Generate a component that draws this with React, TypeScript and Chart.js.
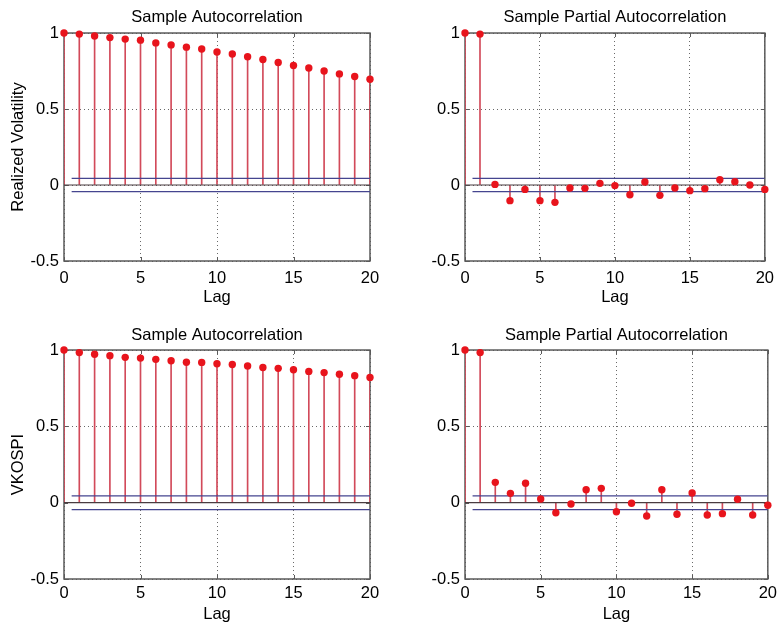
import React, { useEffect, useRef } from "react";
import { Chart, registerables } from "chart.js";

Chart.register(...registerables);

// ---- data ----
const lags = [0, 1, 2, 3, 4, 5, 6, 7, 8, 9, 10, 11, 12, 13, 14, 15, 16, 17, 18, 19, 20];
const rvAcf = [1.0, 0.993, 0.98, 0.97, 0.96, 0.953, 0.935, 0.922, 0.907, 0.895, 0.875, 0.862, 0.844, 0.826, 0.806, 0.786, 0.77, 0.75, 0.731, 0.714, 0.696];
const rvPacf = [1.0, 0.993, 0.004, -0.103, -0.029, -0.103, -0.114, -0.02, -0.022, 0.011, -0.004, -0.064, 0.02, -0.068, -0.02, -0.037, -0.024, 0.035, 0.022, 0.0, -0.029];
const vkAcf = [1.0, 0.983, 0.972, 0.963, 0.952, 0.947, 0.939, 0.93, 0.92, 0.919, 0.91, 0.905, 0.895, 0.886, 0.88, 0.871, 0.86, 0.852, 0.841, 0.832, 0.82];
const vkPacf = [1.0, 0.983, 0.133, 0.061, 0.127, 0.024, -0.066, -0.009, 0.085, 0.094, -0.059, -0.004, -0.087, 0.085, -0.076, 0.063, -0.081, -0.072, 0.022, -0.081, -0.017];
const rvBound = 0.044;
const vkBound = 0.045;
const xTicks = [0, 5, 10, 15, 20];
const yTicks = [-0.5, 0, 0.5, 1];
const acfTitle = "Sample Autocorrelation";
const pacfTitle = "Sample Partial Autocorrelation";
const xLabel = "Lag";
const rvLabel = "Realized Volatility";
const vkLabel = "VKOSPI";

const FONT = '"Liberation Sans", Arial, Helvetica, sans-serif';
const FS = 16.5;
const W = 391;
const H = 312;

type Panel = {
  values: number[];
  bound: number;
  title: string;
  yLabel: string;
  left: number;
  top: number;
  yWidth: number;
  padRight: number;
  xHeight: number;
  titlePadTop: number;
  titlePadBottom: number;
  tickPad: number;
  lagPad: number;
};

const panels: Panel[] = [
  { values: rvAcf, bound: rvBound, title: acfTitle, yLabel: rvLabel, left: 0, top: 0, yWidth: 64, padRight: 21, xHeight: 51, titlePadTop: 7, titlePadBottom: 5.4, tickPad: 8, lagPad: 4.5 },
  { values: rvPacf, bound: rvBound, title: pacfTitle, yLabel: "", left: 391, top: 0, yWidth: 74, padRight: 12, xHeight: 51, titlePadTop: 7, titlePadBottom: 5.4, tickPad: 8, lagPad: 4.5 },
  { values: vkAcf, bound: vkBound, title: acfTitle, yLabel: vkLabel, left: 0, top: 312, yWidth: 64, padRight: 21, xHeight: 45, titlePadTop: 13, titlePadBottom: 4.4, tickPad: 5, lagPad: -1 },
  { values: vkPacf, bound: vkBound, title: pacfTitle, yLabel: "", left: 391, top: 312, yWidth: 74, padRight: 12, xHeight: 45, titlePadTop: 13, titlePadBottom: 4.4, tickPad: 5, lagPad: -1 },
];

const boxPlugin = {
  id: "matlabBox",
  beforeDatasetsDraw(chart: any) {
    const { ctx, chartArea: a, scales } = chart;
    ctx.save();
    ctx.strokeStyle = "#5a5a5a";
    ctx.lineWidth = 1.5;
    ctx.strokeRect(a.left, a.top, a.right - a.left, a.bottom - a.top);
    ctx.lineWidth = 1;
    ctx.beginPath();
    scales.x.ticks.forEach((t: any) => {
      const px = Math.round(scales.x.getPixelForValue(t.value)) + 0.5;
      ctx.moveTo(px, a.bottom);
      ctx.lineTo(px, a.bottom - 4);
      ctx.moveTo(px, a.top);
      ctx.lineTo(px, a.top + 4);
    });
    scales.y.ticks.forEach((t: any) => {
      const py = Math.round(scales.y.getPixelForValue(t.value)) + 0.5;
      ctx.moveTo(a.left, py);
      ctx.lineTo(a.left + 4, py);
      ctx.moveTo(a.right, py);
      ctx.lineTo(a.right - 4, py);
    });
    ctx.stroke();
    ctx.restore();
  },
};

function buildConfig(p: Panel): any {
  const pts = lags.map((x, i) => ({ x, y: p.values[i] }));
  return {
    type: "scatter",
    data: {
      datasets: [
        {
          type: "line",
          data: pts,
          showLine: false,
          pointRadius: 3.7,
          pointBackgroundColor: "#e8141c",
          pointBorderWidth: 0,
          clip: false,
          order: 0,
        },
        {
          type: "line",
          data: [{ x: 0.5, y: p.bound }, { x: lags[lags.length - 1], y: p.bound }],
          borderColor: "#45458f",
          borderWidth: 1.2,
          pointRadius: 0,
          order: 1,
        },
        {
          type: "line",
          data: [{ x: 0.5, y: -p.bound }, { x: lags[lags.length - 1], y: -p.bound }],
          borderColor: "#45458f",
          borderWidth: 1.2,
          pointRadius: 0,
          order: 1,
        },
        {
          type: "line",
          data: [{ x: lags[0], y: 0 }, { x: lags[lags.length - 1], y: 0 }],
          borderColor: "#4a3c40",
          borderWidth: 1.2,
          pointRadius: 0,
          order: 2,
        },
        {
          type: "bar",
          data: pts,
          backgroundColor: "#d24a5a",
          borderWidth: 0,
          barThickness: 1,
          grouped: false,
          order: 3,
        },
      ],
    },
    options: {
      animation: false,
      responsive: false,
      devicePixelRatio: 1,
      layout: { padding: { left: 0, right: p.padRight, top: 0, bottom: 0 } },
      plugins: {
        legend: { display: false },
        tooltip: { enabled: false },
        title: {
          display: true,
          text: p.title,
          fullSize: false,
          color: "#000",
          font: { family: FONT, size: FS, weight: "normal", lineHeight: 1.25 },
          padding: { top: p.titlePadTop, bottom: p.titlePadBottom },
        },
      },
      scales: {
        x: {
          type: "linear",
          min: 0,
          max: 20,
          offset: false,
          afterBuildTicks: (s: any) => {
            s.ticks = xTicks.map((v) => ({ value: v }));
          },
          afterFit: (s: any) => {
            s.height = p.xHeight;
          },
          ticks: {
            color: "#000",
            padding: p.tickPad,
            maxRotation: 0,
            font: { family: FONT, size: FS },
            callback: (v: any) => String(v),
          },
          grid: { color: "rgba(40,40,40,0.7)", drawTicks: false, offset: false, lineWidth: 1 },
          border: { display: false, dash: [1, 3] },
          title: {
            display: true,
            text: xLabel,
            color: "#000",
            font: { family: FONT, size: FS, lineHeight: 1.25 },
            padding: { top: 0, bottom: p.lagPad },
          },
        },
        y: {
          type: "linear",
          min: -0.5,
          max: 1,
          afterBuildTicks: (s: any) => {
            s.ticks = yTicks.map((v) => ({ value: v }));
          },
          afterFit: (s: any) => {
            s.width = p.yWidth;
          },
          ticks: {
            color: "#000",
            padding: 5,
            font: { family: FONT, size: FS },
            callback: (v: any) => String(v),
          },
          grid: { color: "rgba(40,40,40,0.7)", drawTicks: false, lineWidth: 1 },
          border: { display: false, dash: [1, 3] },
          title: {
            display: p.yLabel !== "",
            text: p.yLabel,
            color: "#000",
            font: { family: FONT, size: FS, lineHeight: 1.25 },
            padding: { top: 8.5, bottom: 0 },
          },
        },
      },
    },
    plugins: [boxPlugin],
  };
}

function PanelChart({ p }: { p: Panel }) {
  const ref = useRef<HTMLCanvasElement | null>(null);
  useEffect(() => {
    if (!ref.current) return;
    const chart = new Chart(ref.current, buildConfig(p));
    return () => chart.destroy();
  }, [p]);
  return (
    <div style={{ position: "absolute", left: p.left, top: p.top, width: W, height: H }}>
      <canvas ref={ref} width={W} height={H} style={{ width: W, height: H, display: "block" }} />
    </div>
  );
}

export default function App() {
  return (
    <div style={{ position: "absolute", left: 0, top: 0, width: 782, height: 624, background: "#fff" }}>
      {panels.map((p, i) => (
        <PanelChart key={i} p={p} />
      ))}
    </div>
  );
}
